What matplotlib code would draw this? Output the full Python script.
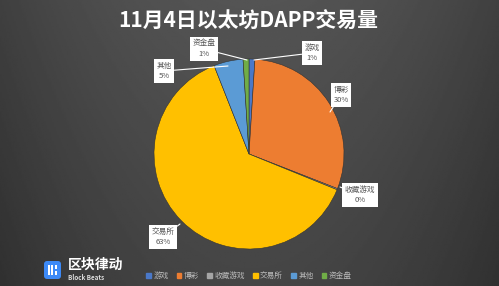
import numpy as np
import matplotlib.pyplot as plt
from matplotlib.patches import FancyBboxPatch, Patch, Rectangle

plt.rcParams['font.family'] = ['Noto Sans CJK SC', 'DejaVu Sans']

# data
categories = ['游戏', '博彩', '收藏游戏', '交易所', '其他', '资金盘']
values = [1, 30, 0.2, 63, 5, 1]
pct_labels = ['1%', '30%', '0%', '63%', '5%', '1%']
colors = ['#4a78c8', '#ed7d31', '#a5a5a5', '#ffc000', '#5b9bd5', '#70ad47']
# label box centres (pixel coords, y from top) and arrow tips
label_pos = [(312, 53), (341, 95), (360, 195), (163, 237), (164, 71), (204, 49)]
tip_pos = [(254, 60), (330, 112), (340, 187), (180, 224), (228, 66), (247, 60)]

W, H = 499, 286
fig = plt.figure(figsize=(W / 100, H / 100), dpi=100)
ax = fig.add_axes([0, 0, 1, 1])
ax.set_xlim(0, W)
ax.set_ylim(0, H)
ax.set_aspect('equal')
ax.axis('off')

# background gradient
xx = np.linspace(-1, 1, 300)
yy = np.linspace(-1, 1, 200)
gx, gy = np.meshgrid(xx, yy)
bg = 0.30 - 0.08 * gx ** 2 - 0.03 * gy
ax.imshow(bg, extent=[0, W, 0, H], cmap='gray', vmin=0, vmax=1,
          aspect='auto', zorder=0)

ax.pie(values, colors=colors, startangle=90, counterclock=False,
       center=(249, H - 154), radius=95, frame=True,
       wedgeprops=dict(edgecolor='#333333', linewidth=0.4))
ax.set_xlim(0, W)
ax.set_ylim(0, H)
ax.axis('off')

for name, pct, (lx, ly), (tx, ty) in zip(categories, pct_labels, label_pos, tip_pos):
    ax.annotate(name + '\n' + pct, xy=(tx, H - ty), xytext=(lx, H - ly),
                ha='center', va='center', fontsize=5.5, color='#555555',
                linespacing=1.5,
                bbox=dict(boxstyle='square,pad=0.35', fc='white', ec='none'),
                arrowprops=dict(arrowstyle='-', color='white', lw=0.8,
                                shrinkA=0, shrinkB=0))

ax.text(248, H - 21, '11月4日以太坊DAPP交易量', ha='center', va='center',
        fontsize=15, color='white', fontweight='bold')

# logo
ax.add_patch(FancyBboxPatch((44, H - 279), 17, 18,
                            boxstyle='round,pad=0,rounding_size=3',
                            fc='#3d8af7', ec='none'))
for bx in (48, 51.5):
    ax.add_patch(Rectangle((bx, H - 275), 2, 10, fc='white', ec='none'))
ax.add_patch(Rectangle((55, H - 275), 2.5, 4, fc='white', ec='none'))
ax.add_patch(Rectangle((55, H - 269), 2.5, 4, fc='white', ec='none'))
ax.text(68, H - 265, '区块律动', ha='left', va='center', fontsize=10,
        color='white', fontweight='bold')
ax.text(68, H - 278, 'Block Beats', ha='left', va='center', fontsize=4.5,
        color='#dddddd', fontweight='bold')

handles = [Patch(color=c) for c in colors]
leg = fig.legend(handles, categories, ncol=6, loc='center',
                 bbox_to_anchor=(249 / W, 1 - 276 / H), frameon=False,
                 fontsize=5.5, handlelength=0.6, handleheight=0.6,
                 handletextpad=0.3, columnspacing=1.1)
for t in leg.get_texts():
    t.set_color('#bbbbbb')

fig.savefig('out.png', dpi=100, facecolor='#3c3c3c')
